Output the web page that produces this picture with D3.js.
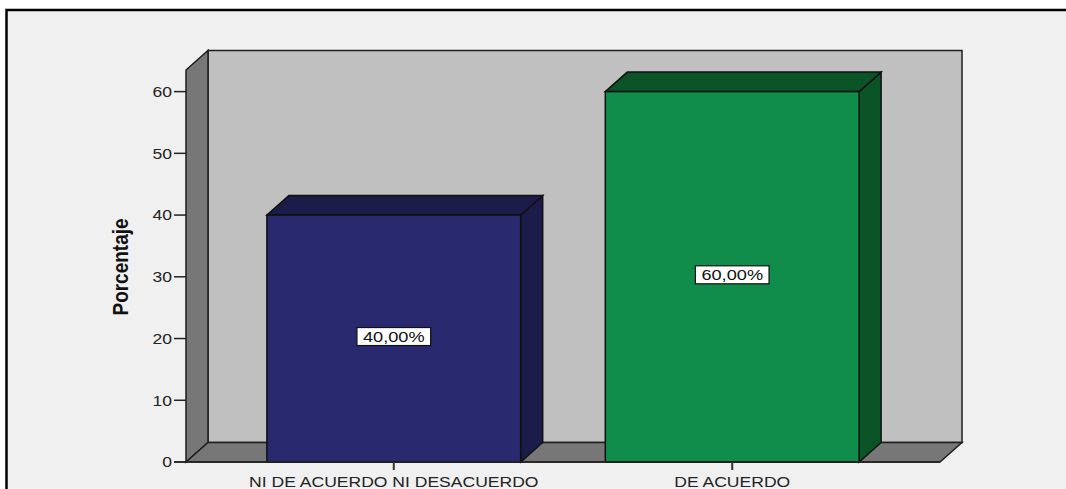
<!DOCTYPE html>
<html>
<head>
<meta charset="utf-8">
<script src="https://cdn.jsdelivr.net/npm/d3@7"></script>
<style>
  html, body { margin: 0; padding: 0; background: #ffffff; }
  svg { display: block; }
  text { font-family: "Liberation Sans", Arial, sans-serif; }
</style>
</head>
<body>
<svg id="chart" width="1066" height="489"></svg>
<script>
// ---- data ----
const categories = ["NI DE ACUERDO NI DESACUERDO", "DE ACUERDO"];
const values = [40, 60];
const frontColors = ["#29296f", "#108c4b"];
const darkColors = ["#1c1c4b", "#0a5428"];
const yTicks = [0, 10, 20, 30, 40, 50, 60];
const yTitle = "Porcentaje";

// ---- layout ----
const W = 1066, H = 489;
const plot = { left: 186, right: 940, top: 70, bottom: 462 };
const depth = { dx: 22, dy: -19.5 };
const sx = 1.17; // horizontal text stretch

const svg = d3.select("#chart");

const x = d3.scaleBand().domain(categories)
  .range([plot.left, plot.right]).paddingInner(0.25).paddingOuter(0.239);
const y = d3.scaleLinear().domain([0, 63.5]).range([plot.bottom, plot.top]);

const loc = d3.formatLocale({ decimal: ",", thousands: ".", grouping: [3], currency: ["", "€"] });
const fmt = v => loc.format(".2f")(v) + "%";

// frame
svg.append("rect").attr("x", 6.5).attr("y", 10).attr("width", 1200).attr("height", 600)
  .attr("fill", "#f0f0f0").attr("stroke", "#000").attr("stroke-width", 2.5);

const stroke = "#1e1e1e";
const pts = a => a.map(p => p.join(",")).join(" ");

// back wall
svg.append("polygon").attr("points", pts([
  [plot.left + depth.dx, plot.top + depth.dy],
  [plot.right + depth.dx, plot.top + depth.dy],
  [plot.right + depth.dx, plot.bottom + depth.dy],
  [plot.left + depth.dx, plot.bottom + depth.dy]
])).attr("fill", "#c0c0c0").attr("stroke", stroke).attr("stroke-width", 1.5);

// left wall
svg.append("polygon").attr("points", pts([
  [plot.left, plot.top],
  [plot.left + depth.dx, plot.top + depth.dy],
  [plot.left + depth.dx, plot.bottom + depth.dy],
  [plot.left, plot.bottom]
])).attr("fill", "#777777").attr("stroke", stroke).attr("stroke-width", 1.5);

// floor
svg.append("polygon").attr("points", pts([
  [plot.left, plot.bottom],
  [plot.left + depth.dx, plot.bottom + depth.dy],
  [plot.right + depth.dx, plot.bottom + depth.dy],
  [plot.right, plot.bottom]
])).attr("fill", "#777777").attr("stroke", stroke).attr("stroke-width", 1.5);

// bars
const bars = svg.append("g").selectAll("g").data(categories).join("g");
bars.each(function(c, i) {
  const g = d3.select(this);
  const x0 = x(c), x1 = x(c) + x.bandwidth();
  const yt = y(values[i]), yb = y(0);
  // side
  g.append("polygon").attr("points", pts([
    [x1, yt], [x1 + depth.dx, yt + depth.dy], [x1 + depth.dx, yb + depth.dy], [x1, yb]
  ])).attr("fill", darkColors[i]).attr("stroke", "#111").attr("stroke-width", 1.5);
  // top
  g.append("polygon").attr("points", pts([
    [x0, yt], [x0 + depth.dx, yt + depth.dy], [x1 + depth.dx, yt + depth.dy], [x1, yt]
  ])).attr("fill", darkColors[i]).attr("stroke", "#111").attr("stroke-width", 1.5);
  // front
  g.append("rect").attr("x", x0).attr("y", yt).attr("width", x1 - x0).attr("height", yb - yt)
    .attr("fill", frontColors[i]).attr("stroke", "#111").attr("stroke-width", 1.5);
});

// y axis ticks & labels
const yAxis = svg.append("g");
yAxis.selectAll("line").data(yTicks).join("line")
  .attr("x1", plot.left - 12).attr("x2", plot.left)
  .attr("y1", d => y(d)).attr("y2", d => y(d))
  .attr("stroke", "#222").attr("stroke-width", 1.5);
yAxis.selectAll("text").data(yTicks).join("text")
  .attr("transform", d => `translate(${plot.left - 14},${y(d)}) scale(${sx},1)`)
  .attr("text-anchor", "end").attr("dy", "0.36em")
  .attr("font-size", 15).attr("fill", "#222")
  .text(d => d);
// baseline
svg.append("line").attr("x1", plot.left - 12).attr("x2", plot.right)
  .attr("y1", plot.bottom).attr("y2", plot.bottom).attr("stroke", "#222").attr("stroke-width", 1.5);

// y title
svg.append("text")
  .attr("transform", `translate(128,267) scale(${sx},1) rotate(-90)`)
  .attr("text-anchor", "middle")
  .attr("font-size", 19).attr("font-weight", "bold").attr("fill", "#111")
  .text(yTitle);

// x ticks & labels
const xAxis = svg.append("g");
xAxis.selectAll("line").data(categories).join("line")
  .attr("x1", d => x(d) + x.bandwidth() / 2).attr("x2", d => x(d) + x.bandwidth() / 2)
  .attr("y1", plot.bottom).attr("y2", plot.bottom + 8)
  .attr("stroke", "#333").attr("stroke-width", 2);
xAxis.selectAll("text").data(categories).join("text")
  .attr("transform", d => `translate(${x(d) + x.bandwidth() / 2},487) scale(${sx},1)`)
  .attr("text-anchor", "middle")
  .attr("font-size", 15).attr("fill", "#222")
  .text(d => d);

// data labels
const lab = svg.append("g").selectAll("g").data(categories).join("g")
  .attr("transform", (d, i) => `translate(${x(d) + x.bandwidth() / 2},${y(values[i] / 2) - 2})`);
lab.each(function(c, i) {
  const g = d3.select(this);
  const t = g.append("text")
    .attr("transform", `scale(1.3,1)`)
    .attr("text-anchor", "middle").attr("dy", "0.36em")
    .attr("font-size", 14).attr("fill", "#111")
    .text(fmt(values[i]));
  const w = t.node().getComputedTextLength() * 1.3 + 12;
  g.insert("rect", "text")
    .attr("x", -w / 2).attr("y", -9).attr("width", w).attr("height", 18)
    .attr("fill", "#fff").attr("stroke", "#111").attr("stroke-width", 1.2);
});
</script>
</body>
</html>
